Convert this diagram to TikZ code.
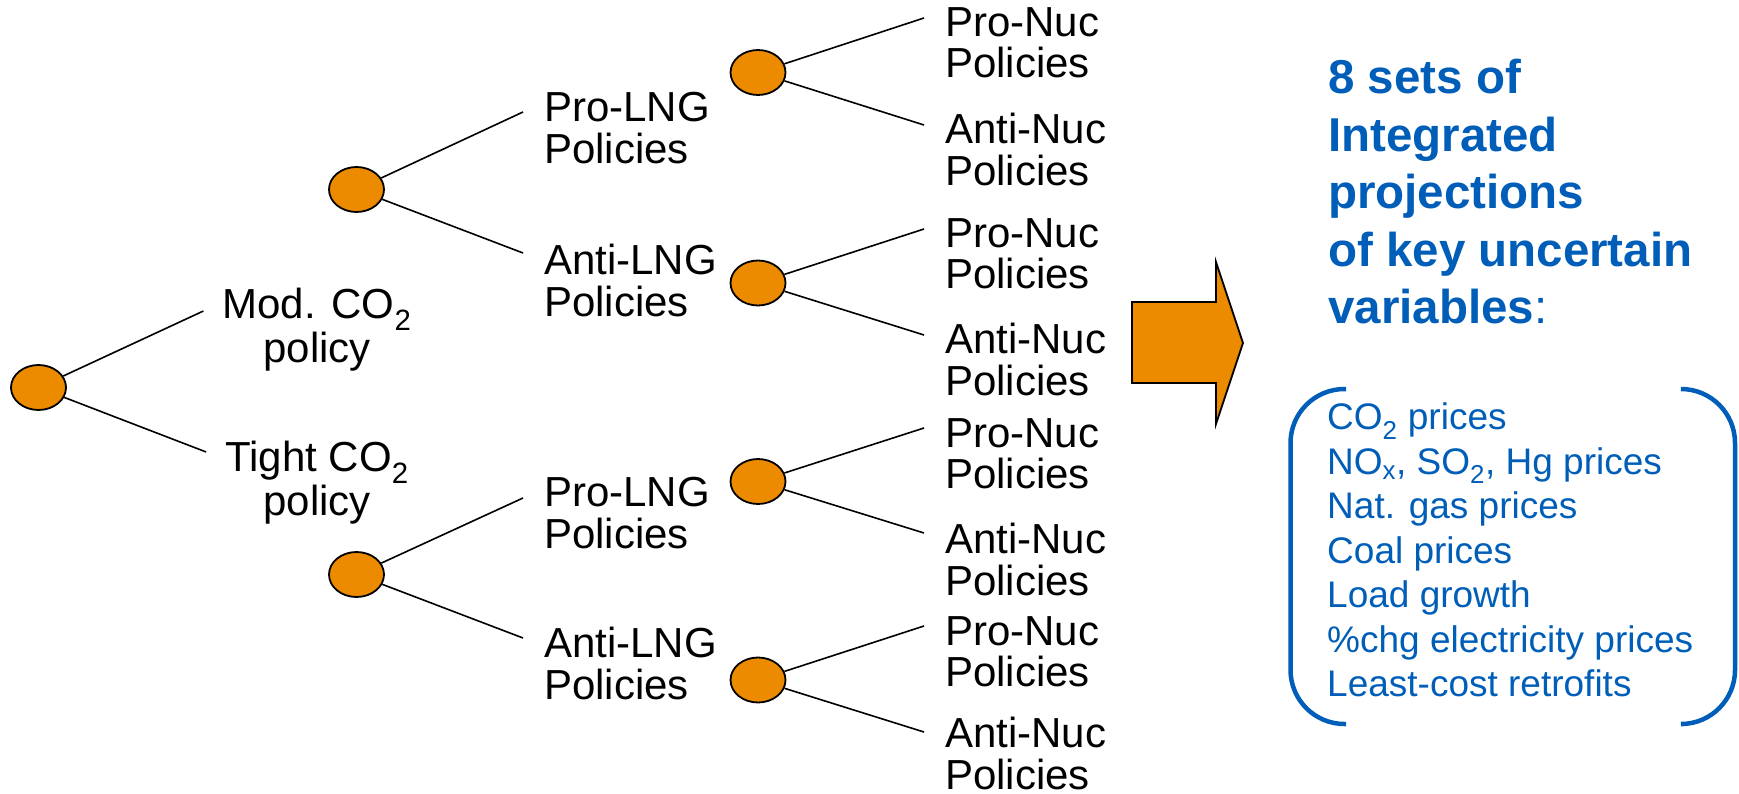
\documentclass[tikz,border=0pt]{standalone}
\usepackage{fontspec}
\setmainfont{Liberation Sans}
\usetikzlibrary{shapes.geometric}
\definecolor{chanceorange}{RGB}{236,139,0}
\definecolor{resultblue}{RGB}{0,94,184}

\begin{document}
\begin{tikzpicture}[x=1pt,y=-1pt,
    chance/.style={ellipse,draw,line width=1.8pt,fill=chanceorange,minimum width=55pt,minimum height=45pt,inner sep=0pt},
    choice/.style={inner sep=0pt,anchor=north west,align=left,font=\fontsize{42}{41.5}\selectfont},
    branch/.style={line width=1.6pt},
    bracket/.style={resultblue,line width=4.5pt,rounded corners=54pt}]
\useasboundingbox (0,0) rectangle (1739,794);

% chance nodes
\node[chance] (root) at (38.5,387.5) {};
\node[chance] (a1) at (356.5,189.5) {};
\node[chance] (a2) at (356.5,574.5) {};
\node[chance] (b1) at (758,72.5) {};
\node[chance] (b2) at (758,283) {};
\node[chance] (b3) at (758,481.5) {};
\node[chance] (b4) at (758,680) {};

% CO2 policy
\node[choice,anchor=north,align=center] (mod) at (317,288) {Mod. CO\textsubscript{2}\\policy};
\node[choice,anchor=north,align=center] (tight) at (317,441) {Tight CO\textsubscript{2}\\policy};
\draw[branch] (root) -- ([shift={(-19,23)}]mod.north west);
\draw[branch] (root) -- ([shift={(-19,11)}]tight.north west);

% LNG policies
\node[choice] (pl1) at (544,92) {Pro-LNG\\Policies};
\node[choice] (al1) at (544,244) {Anti-LNG\\Policies};
\node[choice] (pl2) at (544,477) {Pro-LNG\\Policies};
\node[choice] (al2) at (544,627) {Anti-LNG\\Policies};
\draw[branch] (a1) -- ([shift={(-21,20)}]pl1.north west);
\draw[branch] (a1) -- ([shift={(-21,9)}]al1.north west);
\draw[branch] (a2) -- ([shift={(-21,21)}]pl2.north west);
\draw[branch] (a2) -- ([shift={(-21,11)}]al2.north west);

% nuclear policies
\node[choice] (pn1) at (945,7) {Pro-Nuc\\Policies};
\node[choice] (an1) at (945,113) {Anti-Nuc\\Policies};
\node[choice] (pn2) at (945,218) {Pro-Nuc\\Policies};
\node[choice] (an2) at (945,323) {Anti-Nuc\\Policies};
\node[choice] (pn3) at (945,418) {Pro-Nuc\\Policies};
\node[choice] (an3) at (945,523) {Anti-Nuc\\Policies};
\node[choice] (pn4) at (945,616) {Pro-Nuc\\Policies};
\node[choice] (an4) at (945,717) {Anti-Nuc\\Policies};
\draw[branch] (b1) -- ([shift={(-21,11)}]pn1.north west);
\draw[branch] (b1) -- ([shift={(-21,12)}]an1.north west);
\draw[branch] (b2) -- ([shift={(-21,11)}]pn2.north west);
\draw[branch] (b2) -- ([shift={(-21,12)}]an2.north west);
\draw[branch] (b3) -- ([shift={(-21,10)}]pn3.north west);
\draw[branch] (b3) -- ([shift={(-21,10)}]an3.north west);
\draw[branch] (b4) -- ([shift={(-21,10)}]pn4.north west);
\draw[branch] (b4) -- ([shift={(-21,15)}]an4.north west);

% big arrow
\draw[line width=1.8pt,fill=chanceorange] (1132,302) -- (1216,302) -- (1216,262) -- (1243,343)
  -- (1216,424) -- (1216,383) -- (1132,383) -- cycle;

% results
\node[inner sep=0pt,anchor=north west,align=left,text=resultblue,font=\fontsize{47.5}{57.5}\selectfont\bfseries] (sets) at (1328,59)
  {8 sets of\\Integrated\\projections\\of key uncertain\\variables\textmd{:}};
\node[inner sep=0pt,anchor=north west,align=left,text=resultblue,font=\fontsize{37}{44.5}\selectfont] (vars) at (1327,402.5)
  {CO\textsubscript{2} prices\\NO\textsubscript{x}, SO\textsubscript{2}, Hg prices\\Nat. gas prices\\Coal prices\\Load growth\\\%chg electricity prices\\Least-cost retrofits};
\draw[bracket] (1346,389) -- (1290.5,389) -- (1290.5,724) -- (1346,724);
\draw[bracket] (1683,389) -- (1735,389) -- (1735,724) -- (1683,724);
\end{tikzpicture}
\end{document}
